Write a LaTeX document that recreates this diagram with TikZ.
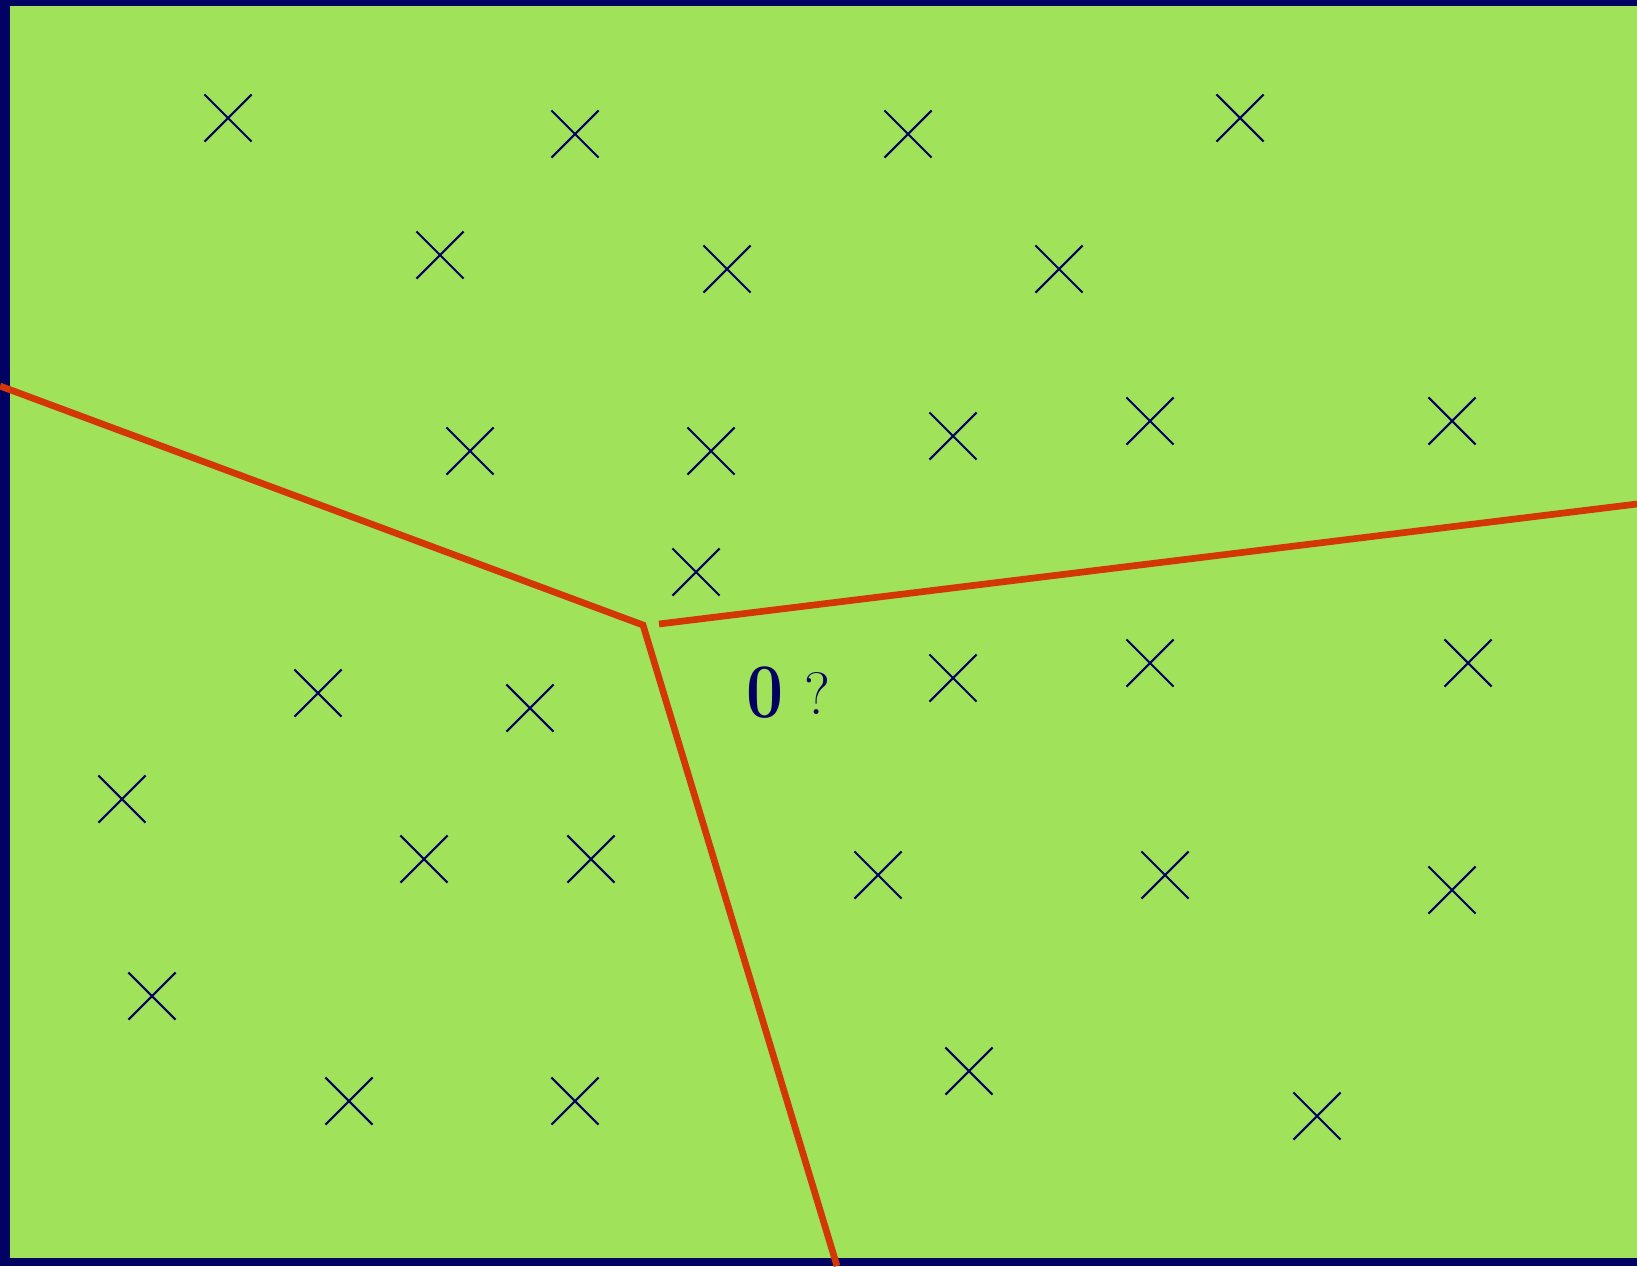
\documentclass[tikz,border=0pt]{standalone}
\usepackage{tikz}
\usetikzlibrary{
  shapes.misc,
  positioning
}
\definecolor{slidenavy}{RGB}{2,2,98}
\definecolor{fieldgreen}{RGB}{160,226,90}
\definecolor{borderred}{RGB}{210,55,5}

\begin{document}
\begin{tikzpicture}[x=0.01cm, y=-0.01cm]
  % Background and field
  \fill[slidenavy] (0,0) rectangle (1637,1266);
  \useasboundingbox (0,0) rectangle (1637,1266);
  \fill[fieldgreen] (10,6) rectangle (1637,1258);

  % Region borders
  \coordinate (W) at (0,386);
  \coordinate (V) at (643,625);
  \coordinate (S) at (837,1266);
  \coordinate (G) at (659,624);
  \coordinate (E) at (1637,504);
  \draw[borderred, line width=1.9pt] (W) -- (V) -- (S);
  \draw[borderred, line width=1.9pt] (G) -- (E);

  % Sample points
  \foreach \k/\px/\py in {
    1/228/118, 2/575/134, 3/908/134, 4/1240/118,
    5/440/255, 6/727/269, 7/1059/269,
    8/470/451, 9/711/451, 10/953/436, 11/1150/421, 12/1452/421,
    13/696/572,
    14/318/693, 15/530/708, 16/953/678, 17/1150/663, 18/1468/663,
    19/122/799, 20/424/859, 21/591/859, 22/878/875, 23/1165/875,
    24/1452/890,
    25/152/996, 26/349/1101, 27/575/1101, 28/969/1071, 29/1317/1116
  }{
    \node[
      cross out, draw=slidenavy, line width=0.6pt,
      minimum size=0.45cm, inner sep=0pt
    ] (P\k) at (\px,\py) {};
  }

  % Label
  \node[text=slidenavy, font=\fontsize{22}{26}\selectfont\bfseries, inner sep=0pt]
    (zero) at (765,693) {\scalebox{0.85}[1]{0}};
  \node[text=slidenavy, font=\fontsize{17}{20}\selectfont, inner sep=0pt,
    right=0.2cm of zero] (ask) {?};
\end{tikzpicture}
\end{document}
